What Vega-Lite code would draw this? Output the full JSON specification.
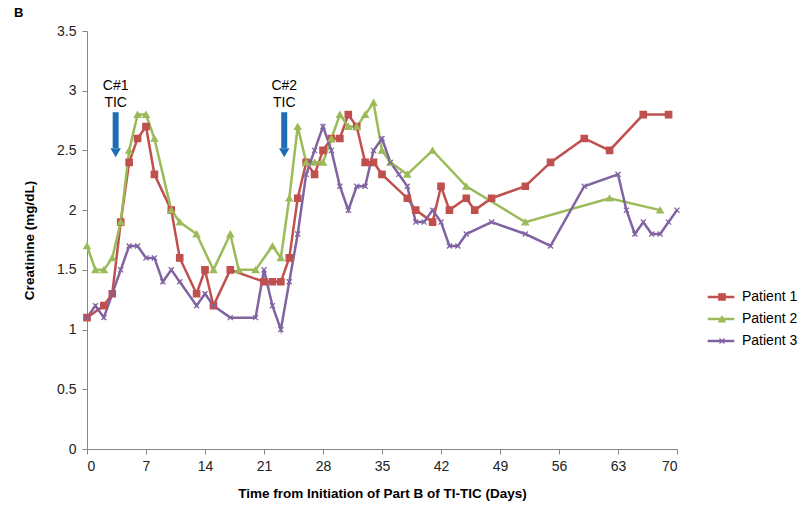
{
  "$schema": "https://vega.github.io/schema/vega-lite/v6.json",
  "width": 590,
  "height": 418,
  "autosize": "none",
  "padding": {"left": 87, "top": 31, "right": 123, "bottom": 64},
  "background": "white",
  "title": {"text": "B", "anchor": "start", "frame": "group", "dx": -73, "offset": 4, "fontSize": 13, "fontWeight": "bold", "font": "Liberation Sans", "color": "#000"},
  "config": {
    "view": {"stroke": null},
    "font": "Liberation Sans",
    "legend": {"padding": 0},
    "axis": {"grid": false, "domainColor": "#868686", "tickColor": "#868686", "tickSize": 5, "labelFont": "Liberation Sans", "labelFontSize": 14, "labelColor": "#222", "titleFont": "Liberation Sans", "titleFontSize": 13.5, "titleFontWeight": "bold", "titleColor": "#000"}
  },
  "datasets": {
    "patients": [
      {"day": 0, "value": 1.1, "patient": "Patient 1"},
      {"day": 2, "value": 1.2, "patient": "Patient 1"},
      {"day": 3, "value": 1.3, "patient": "Patient 1"},
      {"day": 4, "value": 1.9, "patient": "Patient 1"},
      {"day": 5, "value": 2.4, "patient": "Patient 1"},
      {"day": 6, "value": 2.6, "patient": "Patient 1"},
      {"day": 7, "value": 2.7, "patient": "Patient 1"},
      {"day": 8, "value": 2.3, "patient": "Patient 1"},
      {"day": 10, "value": 2.0, "patient": "Patient 1"},
      {"day": 11, "value": 1.6, "patient": "Patient 1"},
      {"day": 13, "value": 1.3, "patient": "Patient 1"},
      {"day": 14, "value": 1.5, "patient": "Patient 1"},
      {"day": 15, "value": 1.2, "patient": "Patient 1"},
      {"day": 17, "value": 1.5, "patient": "Patient 1"},
      {"day": 21, "value": 1.4, "patient": "Patient 1"},
      {"day": 22, "value": 1.4, "patient": "Patient 1"},
      {"day": 23, "value": 1.4, "patient": "Patient 1"},
      {"day": 24, "value": 1.6, "patient": "Patient 1"},
      {"day": 25, "value": 2.1, "patient": "Patient 1"},
      {"day": 26, "value": 2.4, "patient": "Patient 1"},
      {"day": 27, "value": 2.3, "patient": "Patient 1"},
      {"day": 28, "value": 2.5, "patient": "Patient 1"},
      {"day": 29, "value": 2.6, "patient": "Patient 1"},
      {"day": 30, "value": 2.6, "patient": "Patient 1"},
      {"day": 31, "value": 2.8, "patient": "Patient 1"},
      {"day": 32, "value": 2.7, "patient": "Patient 1"},
      {"day": 33, "value": 2.4, "patient": "Patient 1"},
      {"day": 34, "value": 2.4, "patient": "Patient 1"},
      {"day": 35, "value": 2.3, "patient": "Patient 1"},
      {"day": 38, "value": 2.1, "patient": "Patient 1"},
      {"day": 39, "value": 2.0, "patient": "Patient 1"},
      {"day": 41, "value": 1.9, "patient": "Patient 1"},
      {"day": 42, "value": 2.2, "patient": "Patient 1"},
      {"day": 43, "value": 2.0, "patient": "Patient 1"},
      {"day": 45, "value": 2.1, "patient": "Patient 1"},
      {"day": 46, "value": 2.0, "patient": "Patient 1"},
      {"day": 48, "value": 2.1, "patient": "Patient 1"},
      {"day": 52, "value": 2.2, "patient": "Patient 1"},
      {"day": 55, "value": 2.4, "patient": "Patient 1"},
      {"day": 59, "value": 2.6, "patient": "Patient 1"},
      {"day": 62, "value": 2.5, "patient": "Patient 1"},
      {"day": 66, "value": 2.8, "patient": "Patient 1"},
      {"day": 69, "value": 2.8, "patient": "Patient 1"},
      {"day": 0, "value": 1.7, "patient": "Patient 2"},
      {"day": 1, "value": 1.5, "patient": "Patient 2"},
      {"day": 2, "value": 1.5, "patient": "Patient 2"},
      {"day": 3, "value": 1.6, "patient": "Patient 2"},
      {"day": 4, "value": 1.9, "patient": "Patient 2"},
      {"day": 5, "value": 2.5, "patient": "Patient 2"},
      {"day": 6, "value": 2.8, "patient": "Patient 2"},
      {"day": 7, "value": 2.8, "patient": "Patient 2"},
      {"day": 8, "value": 2.6, "patient": "Patient 2"},
      {"day": 10, "value": 2.0, "patient": "Patient 2"},
      {"day": 11, "value": 1.9, "patient": "Patient 2"},
      {"day": 13, "value": 1.8, "patient": "Patient 2"},
      {"day": 15, "value": 1.5, "patient": "Patient 2"},
      {"day": 17, "value": 1.8, "patient": "Patient 2"},
      {"day": 18, "value": 1.5, "patient": "Patient 2"},
      {"day": 20, "value": 1.5, "patient": "Patient 2"},
      {"day": 22, "value": 1.7, "patient": "Patient 2"},
      {"day": 23, "value": 1.6, "patient": "Patient 2"},
      {"day": 24, "value": 2.1, "patient": "Patient 2"},
      {"day": 25, "value": 2.7, "patient": "Patient 2"},
      {"day": 26, "value": 2.4, "patient": "Patient 2"},
      {"day": 27, "value": 2.4, "patient": "Patient 2"},
      {"day": 28, "value": 2.4, "patient": "Patient 2"},
      {"day": 29, "value": 2.6, "patient": "Patient 2"},
      {"day": 30, "value": 2.8, "patient": "Patient 2"},
      {"day": 31, "value": 2.7, "patient": "Patient 2"},
      {"day": 32, "value": 2.7, "patient": "Patient 2"},
      {"day": 33, "value": 2.8, "patient": "Patient 2"},
      {"day": 34, "value": 2.9, "patient": "Patient 2"},
      {"day": 35, "value": 2.5, "patient": "Patient 2"},
      {"day": 36, "value": 2.4, "patient": "Patient 2"},
      {"day": 38, "value": 2.3, "patient": "Patient 2"},
      {"day": 41, "value": 2.5, "patient": "Patient 2"},
      {"day": 45, "value": 2.2, "patient": "Patient 2"},
      {"day": 52, "value": 1.9, "patient": "Patient 2"},
      {"day": 62, "value": 2.1, "patient": "Patient 2"},
      {"day": 68, "value": 2.0, "patient": "Patient 2"},
      {"day": 0, "value": 1.1, "patient": "Patient 3"},
      {"day": 1, "value": 1.2, "patient": "Patient 3"},
      {"day": 2, "value": 1.1, "patient": "Patient 3"},
      {"day": 3, "value": 1.3, "patient": "Patient 3"},
      {"day": 4, "value": 1.5, "patient": "Patient 3"},
      {"day": 5, "value": 1.7, "patient": "Patient 3"},
      {"day": 6, "value": 1.7, "patient": "Patient 3"},
      {"day": 7, "value": 1.6, "patient": "Patient 3"},
      {"day": 8, "value": 1.6, "patient": "Patient 3"},
      {"day": 9, "value": 1.4, "patient": "Patient 3"},
      {"day": 10, "value": 1.5, "patient": "Patient 3"},
      {"day": 11, "value": 1.4, "patient": "Patient 3"},
      {"day": 13, "value": 1.2, "patient": "Patient 3"},
      {"day": 14, "value": 1.3, "patient": "Patient 3"},
      {"day": 15, "value": 1.2, "patient": "Patient 3"},
      {"day": 17, "value": 1.1, "patient": "Patient 3"},
      {"day": 20, "value": 1.1, "patient": "Patient 3"},
      {"day": 21, "value": 1.5, "patient": "Patient 3"},
      {"day": 22, "value": 1.2, "patient": "Patient 3"},
      {"day": 23, "value": 1.0, "patient": "Patient 3"},
      {"day": 24, "value": 1.4, "patient": "Patient 3"},
      {"day": 25, "value": 1.8, "patient": "Patient 3"},
      {"day": 26, "value": 2.3, "patient": "Patient 3"},
      {"day": 27, "value": 2.5, "patient": "Patient 3"},
      {"day": 28, "value": 2.7, "patient": "Patient 3"},
      {"day": 29, "value": 2.5, "patient": "Patient 3"},
      {"day": 30, "value": 2.2, "patient": "Patient 3"},
      {"day": 31, "value": 2.0, "patient": "Patient 3"},
      {"day": 32, "value": 2.2, "patient": "Patient 3"},
      {"day": 33, "value": 2.2, "patient": "Patient 3"},
      {"day": 34, "value": 2.5, "patient": "Patient 3"},
      {"day": 35, "value": 2.6, "patient": "Patient 3"},
      {"day": 36, "value": 2.4, "patient": "Patient 3"},
      {"day": 37, "value": 2.3, "patient": "Patient 3"},
      {"day": 38, "value": 2.2, "patient": "Patient 3"},
      {"day": 39, "value": 1.9, "patient": "Patient 3"},
      {"day": 40, "value": 1.9, "patient": "Patient 3"},
      {"day": 41, "value": 2.0, "patient": "Patient 3"},
      {"day": 42, "value": 1.9, "patient": "Patient 3"},
      {"day": 43, "value": 1.7, "patient": "Patient 3"},
      {"day": 44, "value": 1.7, "patient": "Patient 3"},
      {"day": 45, "value": 1.8, "patient": "Patient 3"},
      {"day": 48, "value": 1.9, "patient": "Patient 3"},
      {"day": 52, "value": 1.8, "patient": "Patient 3"},
      {"day": 55, "value": 1.7, "patient": "Patient 3"},
      {"day": 59, "value": 2.2, "patient": "Patient 3"},
      {"day": 63, "value": 2.3, "patient": "Patient 3"},
      {"day": 64, "value": 2.0, "patient": "Patient 3"},
      {"day": 65, "value": 1.8, "patient": "Patient 3"},
      {"day": 66, "value": 1.9, "patient": "Patient 3"},
      {"day": 67, "value": 1.8, "patient": "Patient 3"},
      {"day": 68, "value": 1.8, "patient": "Patient 3"},
      {"day": 69, "value": 1.9, "patient": "Patient 3"},
      {"day": 70, "value": 2.0, "patient": "Patient 3"}
    ],
    "notes": [
      {"day": 3.4, "label": "C#1|TIC", "textY": 3.04, "top": 2.82, "bottom": 2.52, "tip": 2.48},
      {"day": 23.4, "label": "C#2|TIC", "textY": 3.04, "top": 2.82, "bottom": 2.52, "tip": 2.48}
    ]
  },
  "layer": [
    {
      "data": {"name": "patients"},
      "mark": {"type": "line", "strokeWidth": 2.5},
      "encoding": {
        "x": {"field": "day", "type": "quantitative", "scale": {"domain": [0, 70], "nice": false},
              "axis": {"values": [0, 7, 14, 21, 28, 35, 42, 49, 56, 63, 70], "title": "Time from Initiation of Part B of TI-TIC (Days)", "labelPadding": 5, "titlePadding": 13}},
        "y": {"field": "value", "type": "quantitative", "scale": {"domain": [0, 3.5], "nice": false},
              "axis": {"values": [0, 0.5, 1, 1.5, 2, 2.5, 3, 3.5], "format": "~g", "title": "Creatinine (mg/dL)", "labelPadding": 6, "titlePadding": 20}},
        "color": {"field": "patient", "type": "nominal",
                  "scale": {"domain": ["Patient 1", "Patient 2", "Patient 3"], "range": ["#C0504D", "#9BBB59", "#8064A2"]},
                  "legend": {"title": null, "orient": "none", "legendX": 627, "legendY": 259, "labelFontSize": 14, "labelFont": "Liberation Sans", "labelColor": "#000", "rowPadding": 8, "labelOffset": 14,
                             "symbolType": "M-2.8,0H2.8", "symbolSize": 90, "symbolStrokeWidth": 2.5}}
      }
    },
    {
      "data": {"name": "patients"},
      "mark": {"type": "point", "filled": true, "size": 40, "strokeWidth": 1.3, "opacity": 1},
      "encoding": {
        "x": {"field": "day", "type": "quantitative"},
        "y": {"field": "value", "type": "quantitative"},
        "fill": {"field": "patient", "type": "nominal",
                 "scale": {"domain": ["Patient 1", "Patient 2", "Patient 3", "none"], "range": ["#C0504D", "#9BBB59", "#8064A2", "#999999"]},
                 "legend": {"title": null, "orient": "none", "legendX": 628, "legendY": 259, "values": ["Patient 1", "Patient 2", "Patient 3"], "labelFontSize": 14, "labelExpr": "' '", "rowPadding": 8, "symbolSize": 40, "symbolStrokeWidth": 1.3}},
        "stroke": {"field": "patient", "type": "nominal",
                   "scale": {"domain": ["Patient 1", "Patient 2", "Patient 3", "none"], "range": ["#C0504D", "#9BBB59", "#8064A2", "#999999"]},
                   "legend": {"title": null, "orient": "none", "legendX": 628, "legendY": 259, "values": ["Patient 1", "Patient 2", "Patient 3"], "labelFontSize": 14, "labelExpr": "' '", "rowPadding": 8, "symbolSize": 40, "symbolStrokeWidth": 1.3}},
        "shape": {"field": "patient", "type": "nominal",
                  "scale": {"domain": ["Patient 1", "Patient 2", "Patient 3", "none"], "range": ["square", "triangle-up", "M-0.8,-0.8L0.8,0.8M-0.8,0.8L0.8,-0.8", "circle"]},
                  "legend": {"title": null, "orient": "none", "legendX": 628, "legendY": 259, "values": ["Patient 1", "Patient 2", "Patient 3"], "labelFontSize": 14, "labelExpr": "' '", "rowPadding": 8, "symbolSize": 40, "symbolStrokeWidth": 1.3}}
      }
    },
    {
      "data": {"name": "notes"},
      "mark": {"type": "rule", "strokeWidth": 6, "color": "#1F6DB5"},
      "encoding": {
        "x": {"field": "day", "type": "quantitative"},
        "y": {"field": "top", "type": "quantitative"},
        "y2": {"field": "bottom"}
      }
    },
    {
      "data": {"name": "notes"},
      "mark": {"type": "point", "shape": "triangle-down", "filled": true, "size": 110, "color": "#1F6DB5", "opacity": 1},
      "encoding": {
        "x": {"field": "day", "type": "quantitative"},
        "y": {"field": "tip", "type": "quantitative"}
      }
    },
    {
      "data": {"name": "notes"},
      "mark": {"type": "text", "lineBreak": "|", "lineHeight": 17, "fontSize": 14, "font": "Liberation Sans", "color": "#000", "baseline": "middle", "align": "center"},
      "encoding": {
        "x": {"field": "day", "type": "quantitative"},
        "y": {"field": "textY", "type": "quantitative"},
        "text": {"field": "label"}
      }
    }
  ]
}
